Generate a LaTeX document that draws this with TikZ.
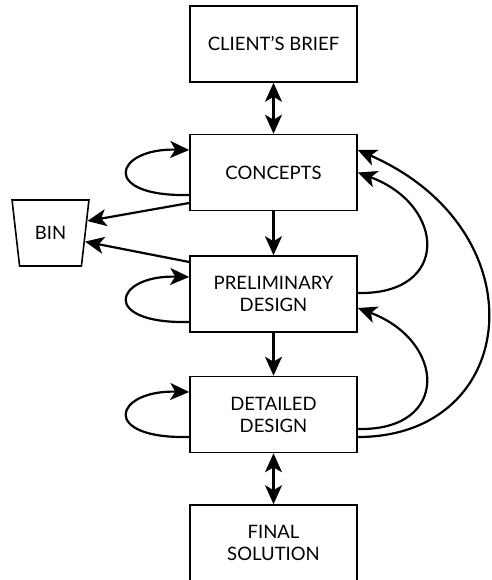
\documentclass[tikz,border=0pt]{standalone}
\usepackage{fontspec}
\setmainfont{Lato}
\usetikzlibrary{calc, shapes.geometric, positioning, arrows.meta}

\begin{document}
\begin{tikzpicture}[x=1pt, y=-1pt,
    >={Stealth[length=19pt, width=17pt, inset=5pt]},
    box/.style={draw, line width=1.6pt, minimum width=167pt, minimum height=76pt,
        align=center, inner sep=0pt, font=\fontsize{18.5}{22}\selectfont},
    link/.style={line width=2.2pt}]
    \useasboundingbox (0,0) rectangle (491,580);

    % The stages
    \node[box] (brief) at (273.5,44) {CLIENT'S BRIEF};
    \node[box] (concepts) at (273.5,172.5) {CONCEPTS};
    \node[box] (prelim) at (273.5,294) {PRELIMINARY\\DESIGN};
    \node[box] (detailed) at (273.5,414.5) {DETAILED\\DESIGN};
    \node[box] (final) at (273.5,543) {FINAL\\SOLUTION};
    \node[draw, trapezium, shape border rotate=180, trapezium stretches=true,
        trapezium left angle=74, trapezium right angle=74,
        minimum width=77pt, minimum height=66pt, inner sep=0pt,
        line width=1.6pt, font=\fontsize{18.5}{22}\selectfont] (bin) at (50.5,233) {BIN};

    % Down the middle
    \draw[link, <->] (brief) -- (concepts);
    \draw[link, ->] (concepts) -- (prelim);
    \draw[link, ->] (prelim) -- (detailed);
    \draw[link, <->] (detailed) -- (final);

    % Into the bin
    \draw[link, ->] ($(concepts.west)+(0,30.5)$) -- (bin.18);
    \draw[link, ->] ($(prelim.west)+(0,-32)$) -- (bin.-14);

    % Loops on the left
    \draw[link, ->] ($(concepts.west)+(0,22.5)$)
        .. controls ($(concepts.west)+(-90,24.5)$) and ($(concepts.west)+(-75,-24.5)$)
        .. ($(concepts.west)+(0,-22.5)$);
    \draw[link, ->] ($(prelim.west)+(0,28)$)
        .. controls ($(prelim.west)+(-90,30)$) and ($(prelim.west)+(-75,-19)$)
        .. ($(prelim.west)+(0,-17)$);
    \draw[link, ->] ($(detailed.west)+(0,22.5)$)
        .. controls ($(detailed.west)+(-90,24.5)$) and ($(detailed.west)+(-75,-24.5)$)
        .. ($(detailed.west)+(0,-22.5)$);

    % Going back on the right
    \draw[link, ->] ($(prelim.east)+(0,-1)$)
        .. controls ($(prelim.east)+(93,1)$) and ($(concepts.east)+(88,32.5)$)
        .. (concepts.east);
    \draw[link, ->] ($(detailed.east)+(0,14.5)$)
        .. controls ($(detailed.east)+(93,16.5)$) and ($(prelim.east)+(88,47)$)
        .. ($(prelim.east)+(0,14)$);
    \draw[link, ->] ($(detailed.east)+(0,22.5)$)
        .. controls ($(detailed.east)+(163,22.5)$) and ($(concepts.east)+(183,57.5)$)
        .. ($(concepts.east)+(0,-22.5)$);
\end{tikzpicture}
\end{document}
